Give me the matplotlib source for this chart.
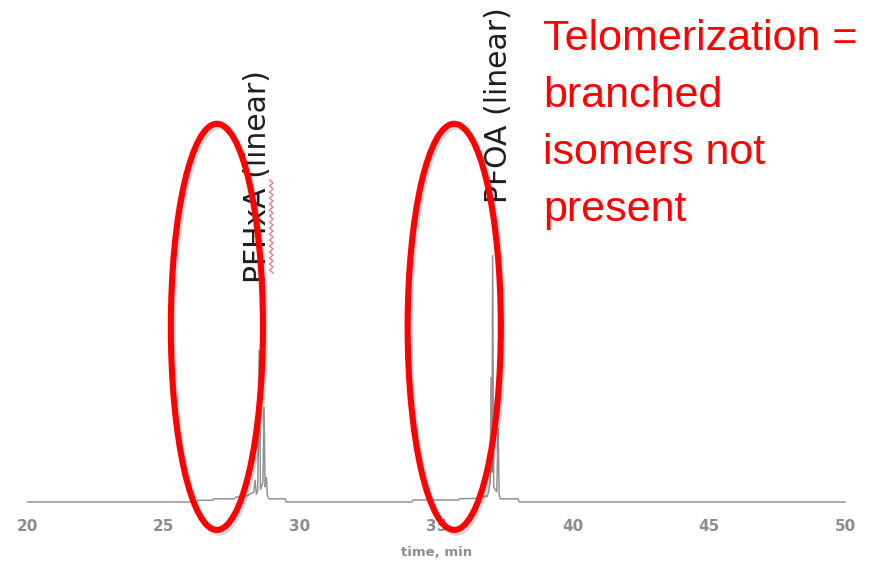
import numpy as np
import matplotlib
matplotlib.use("Agg")
import matplotlib.pyplot as plt
from matplotlib.patches import Ellipse
from matplotlib import patheffects as pe
from matplotlib.lines import Line2D

# Chromatogram trace: retention time (min) and relative intensity (PFOA apex = 100)
time_min = [20.0, 26.2, 26.25, 26.8, 26.85, 27.6, 27.65, 28.05, 28.3, 28.35,
            28.4, 28.45, 28.50, 28.55, 28.64, 28.68, 28.72, 28.77, 28.8, 28.85,
            29.45, 29.5, 34.1, 34.15, 35.8, 35.85, 36.6, 36.8, 36.86, 36.92,
            36.98, 37.01, 37.04, 37.07, 37.11, 37.22, 37.27, 37.31, 37.35, 38.0,
            38.05, 50.0]
intensity = [0.0, 0.0, 0.7, 0.7, 1.3, 1.3, 2.0, 2.5, 4.0, 9.0,
             3.0, 5.0, 61.5, 5.0, 8.0, 38.5, 6.0, 10.0, 3.0, 1.3,
             1.3, 0.0, 0.0, 0.8, 0.8, 1.3, 1.5, 2.5, 2.0, 4.0,
             8.0, 50.6, 12.0, 100.0, 6.0, 4.0, 30.0, 3.0, 1.3, 1.3,
             0.0, 0.0]

xticks = [20, 25, 30, 35, 40, 45, 50]
xlabel = "time, min"

# Peak annotations: (label, time, bottom of label in intensity units)
peak_labels = [("PFHxA (linear)", 28.44, 88.7),
               ("PFOA (linear)", 37.27, 121.0)]

# Highlight rings where branched isomers would elute: (centre time, centre intensity, width, height)
rings = [(26.95, 70.9, 3.38, 164.4),
         (35.66, 70.9, 3.42, 164.4)]

note_lines = ["Telomerization =", "branched", "isomers not", "present"]

W, H = 876, 561
fig = plt.figure(figsize=(W / 100, H / 100), dpi=100)
fig.patch.set_facecolor("white")

ax = fig.add_axes([27.5 / W, (H - 502) / H, 817.5 / W, 502 / H])
ax.set_xlim(20, 50)
ax.set_ylim(0, 203.2)
ax.patch.set_alpha(0)
for s in ax.spines.values():
    s.set_visible(False)
ax.set_yticks([])
ax.set_xticks(xticks)
ax.set_xticklabels([str(t) for t in xticks])
ax.tick_params(axis="x", length=0, pad=12, labelsize=11, labelcolor="#8c8c8c")
for lbl in ax.get_xticklabels():
    lbl.set_fontweight("bold")
ax.set_xlabel(xlabel, fontsize=9.5, color="#8c8c8c", fontweight="bold", labelpad=9)

ax.plot(time_min, intensity, color="#939393", lw=1.1, solid_joinstyle="miter",
        clip_on=False, zorder=2)

for text, t, y0 in peak_labels:
    ax.text(t, y0, text, rotation=90, ha="center", va="bottom",
            fontsize=21.5, color="#1e1e1e", family="DejaVu Sans", zorder=3)

# spell-check squiggle under "HxA"
sx, sy = [], []
for i, yy in enumerate(range(180, 276, 3)):
    sx.append(269.5 if i % 2 == 0 else 273.0)
    sy.append(yy)
fig.add_artist(Line2D([x / W for x in sx], [1 - y / H for y in sy],
                      transform=fig.transFigure, color="#e57373", lw=0.9))

for cx, cy, w, h in rings:
    e = Ellipse((cx, cy), w, h, fill=False, edgecolor="#ff0000", lw=4.4,
                clip_on=False, zorder=4)
    e.set_path_effects([pe.SimpleLineShadow(offset=(1.5, -2), shadow_color="k", alpha=0.15),
                        pe.Normal()])
    ax.add_patch(e)

baselines = [50, 107, 164, 221]
for line, by in zip(note_lines, baselines):
    fig.text(543 / W, 1 - by / H, line, ha="left", va="baseline",
             fontsize=31, color="#ff0000", family="Liberation Sans")

fig.savefig("out.png", dpi=100, facecolor="white")
